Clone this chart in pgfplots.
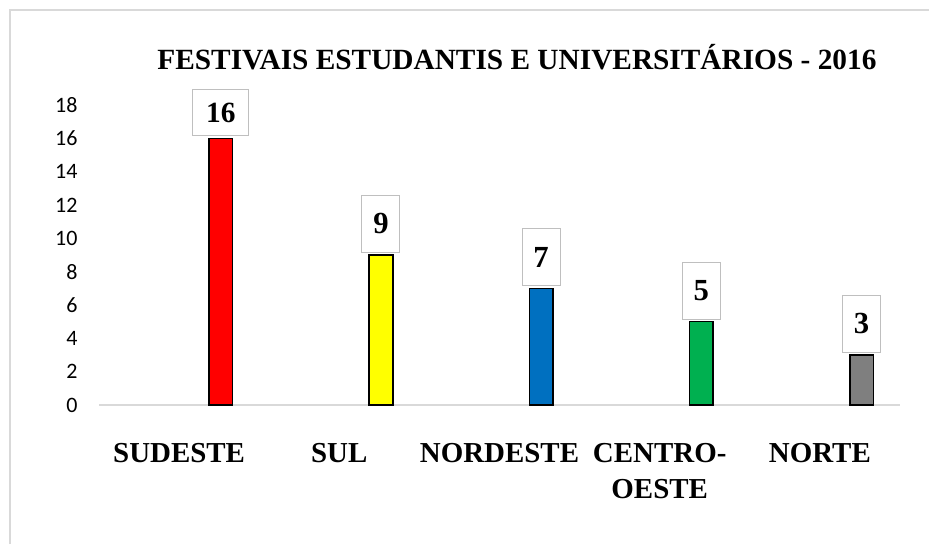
\documentclass[border=0pt]{standalone}
\usepackage{pgfplots}
\pgfplotsset{compat=1.18}
\usepackage{fontspec}
\setmainfont{Liberation Serif}
\newfontfamily\carlito{Carlito}
\definecolor{barred}{HTML}{FF0000}
\definecolor{baryellow}{HTML}{FFFF00}
\definecolor{barblue}{HTML}{0070C0}
\definecolor{bargreen}{HTML}{00B050}
\definecolor{bargray}{HTML}{7F7F7F}
\definecolor{framegray}{HTML}{D9D9D9}
\definecolor{boxgray}{HTML}{BFBFBF}
\begin{document}
\begin{tikzpicture}
\useasboundingbox (0,0) rectangle (696.75pt,408pt);
\draw[framegray, line width=1.5pt] (7.5pt,0) -- (7.5pt,400.5pt) -- (696.75pt,400.5pt);
\node[anchor=base, inner sep=0pt, font=\bfseries\fontsize{22}{22}\selectfont] at (387.75pt,355.5pt) {FESTIVAIS ESTUDANTIS E UNIVERSITÁRIOS - 2016};
\begin{axis}[
  at={(74.25pt,104.25pt)}, anchor=south west,
  scale only axis, width=600.75pt, height=225pt,
  xmin=-0.5, xmax=4.5, ymin=0, ymax=18,
  clip=false,
  axis y line=none,
  axis x line=bottom,
  x axis line style={-, draw=framegray, line width=1.2pt},
  /pgf/number format/assume math mode=true,
  xtick={0,1,2,3,4},
  xticklabels={SUDESTE,SUL,NORDESTE,{CENTRO-\\OESTE},NORTE},
  major tick length=0pt,
  xticklabel style={anchor=north, inner sep=0pt, yshift=-28.5pt, align=center,
     font=\bfseries\fontsize{21.7}{27}\selectfont},
  every node near coord/.append style={draw=boxgray, fill=white, line width=0.8pt,
     font=\bfseries\fontsize{23}{23}\selectfont, anchor=south, yshift=1.5pt,
     minimum width=28.5pt, minimum height=42.75pt, inner sep=0pt},
]
\addplot[ybar, bar width=17.7pt, bar shift=0pt, fill=barred, draw=black, line width=1.2pt,
  nodes near coords, every node near coord/.append style={minimum width=42pt, minimum height=35pt, font=\bfseries\fontsize{22}{22}\selectfont}]
  coordinates {(0.26,16)};
\addplot[ybar, bar width=17.7pt, bar shift=0pt, fill=baryellow, draw=black, line width=1.2pt, nodes near coords]
  coordinates {(1.26,9)};
\addplot[ybar, bar width=17.7pt, bar shift=0pt, fill=barblue, draw=black, line width=1.2pt, nodes near coords]
  coordinates {(2.26,7)};
\addplot[ybar, bar width=17.7pt, bar shift=0pt, fill=bargreen, draw=black, line width=1.2pt, nodes near coords]
  coordinates {(3.26,5)};
\addplot[ybar, bar width=17.7pt, bar shift=0pt, fill=bargray, draw=black, line width=1.2pt, nodes near coords]
  coordinates {(4.26,3)};
\end{axis}
\begin{axis}[
  at={(74.25pt,104.25pt)}, anchor=south west,
  scale only axis, width=600.75pt, height=225pt,
  xmin=-0.5, xmax=4.5, ymin=0, ymax=18,
  axis x line=none, axis y line=left,
  y axis line style={draw=none},
  /pgf/number format/assume math mode=true,
  ytick={0,2,...,18}, major tick length=0pt,
  yticklabel style={anchor=east, inner sep=0pt, xshift=-16pt,
     font=\carlito\fontsize{16.5}{16.5}\selectfont},
]
\addplot[draw=none] coordinates {(0,0)};
\end{axis}
\end{tikzpicture}
\end{document}
